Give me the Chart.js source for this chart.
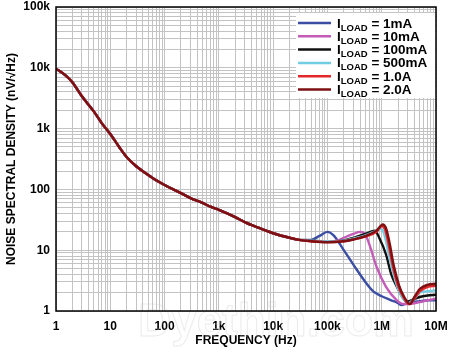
<!DOCTYPE html>
<html>
<head>
<meta charset="utf-8">
<script src="https://cdn.jsdelivr.net/npm/chart.js@4"></script>
<style>
  html, body { margin: 0; padding: 0; background: #fff; }
  #wrap { width: 450px; height: 353px; }
</style>
</head>
<body>
<div id="wrap"><canvas id="noiseChart" width="450" height="353"></canvas></div>
<script>
// 저주파 구간 (모든 부하 전류에서 거의 동일)
var lowFreq  = [1, 1.5, 2, 3, 5, 7, 10, 15, 20, 30, 50, 70, 100, 200, 300, 500, 700, 1000, 2000, 3000, 5000, 10000, 20000, 30000];
var lowNoise = [9700, 7500, 5800, 3400, 1900, 1220, 815, 480, 341, 240, 173, 141, 118, 87, 72, 60, 52, 46, 35, 29, 24, 19, 16, 14.8];

// 고주파 구간 (부하 전류별)
var freq1mA   = [50e3, 70e3, 100e3, 130e3, 200e3, 300e3, 500e3, 700e3, 1e6, 1.5e6, 2e6, 2.3e6, 3e6, 5e6, 7e6, 1e7];
var noise1mA  = [14.8, 17, 20, 17.5, 10, 5.8, 3, 2.1, 1.75, 1.5, 1.35, 1.25, 1.35, 1.45, 1.5, 1.5];
var freq10mA  = [50e3, 100e3, 150e3, 200e3, 300e3, 400e3, 500e3, 600e3, 800e3, 1.2e6, 1.9e6, 2.5e6, 3e6, 5e6, 7e6, 1e7];
var noise10mA = [14.3, 13.8, 14.3, 16, 18.5, 20, 18, 12, 5.4, 2.5, 1.5, 1.3, 1.3, 1.4, 1.5, 1.6];
var freq100mA  = [50e3, 100e3, 200e3, 300e3, 500e3, 750e3, 900e3, 1.2e6, 1.5e6, 1.9e6, 2.4e6, 2.9e6, 3.5e6, 5e6, 7e6, 1e7];
var noise100mA = [14.3, 14, 14.5, 16, 18.5, 21, 16, 8.5, 4, 2.5, 1.7, 1.42, 1.5, 1.7, 1.8, 1.85];
var freq500mA  = [50e3, 100e3, 200e3, 300e3, 500e3, 800e3, 950e3, 1.1e6, 1.3e6, 1.6e6, 2e6, 2.6e6, 3.1e6, 4e6, 5e6, 7e6, 1e7];
var noise500mA = [14.3, 14, 14.3, 15.5, 17.5, 21, 22.5, 19, 10, 4.5, 2.3, 1.5, 1.35, 1.6, 2, 2.1, 2.2];
var freq1A   = [50e3, 100e3, 200e3, 300e3, 500e3, 800e3, 1e6, 1.15e6, 1.35e6, 1.6e6, 2e6, 2.5e6, 3.2e6, 4e6, 5e6, 7e6, 1e7];
var noise1A  = [14, 13.6, 14, 15, 16.7, 20, 25, 22, 12, 5.5, 2.6, 1.7, 1.3, 1.6, 2.1, 2.5, 2.6];
var freq2A   = [50e3, 100e3, 200e3, 300e3, 500e3, 800e3, 1.05e6, 1.2e6, 1.4e6, 1.65e6, 2.1e6, 2.6e6, 3.3e6, 4e6, 5e6, 7e6, 1e7];
var noise2A  = [14, 13.5, 14, 15, 17, 21, 26.5, 23, 13, 5.8, 2.6, 1.7, 1.3, 1.7, 2.3, 2.7, 2.8];

var loadLabels = ['1mA', '10mA', '100mA', '500mA', '1.0A', '2.0A'];
var lineColors = ['#3b4ea3', '#c45bb8', '#111111', '#72cde3', '#e3282b', '#7d1012'];

var xTickValues = [1, 10, 100, 1e3, 1e4, 1e5, 1e6, 1e7];
var xTickLabels = ['1', '10', '100', '1k', '10k', '100k', '1M', '10M'];
var yTickValues = [1, 10, 100, 1e3, 1e4, 1e5];
var yTickLabels = ['1', '10', '100', '1k', '10k', '100k'];

function toPoints(f, v) {
    var pts = [];
    for (var i = 0; i < f.length; i++) pts.push({ x: f[i], y: v[i] });
    return pts;
}
function series(tailF, tailV) {
    return toPoints(lowFreq.concat(tailF), lowNoise.concat(tailV));
}
var allSeries = [
    series(freq1mA, noise1mA),
    series(freq10mA, noise10mA),
    series(freq100mA, noise100mA),
    series(freq500mA, noise500mA),
    series(freq1A, noise1A),
    series(freq2A, noise2A)
];

// 로그 눈금: 각 decade 의 1~9 배
function logTicks(minExp, maxExp) {
    var t = [];
    for (var e = minExp; e < maxExp; e++) {
        for (var m = 1; m < 10; m++) t.push({ value: m * Math.pow(10, e) });
    }
    t.push({ value: Math.pow(10, maxExp) });
    return t;
}

var FONT = '"Liberation Sans", Arial, sans-serif';

var datasets = allSeries.map(function (pts, i) {
    return {
        label: loadLabels[i],
        data: pts,
        borderColor: lineColors[i],
        borderWidth: 2.4,
        pointRadius: 0,
        fill: false,
        cubicInterpolationMode: 'monotone',
        order: allSeries.length - i
    };
});

// 테두리 + 범례 + 워터마크
var decorPlugin = {
    id: 'decor',
    beforeDatasetsDraw: function (chart) {
        var c = chart.ctx;
        c.save();
        c.font = 'bold 46px ' + FONT;
        c.lineWidth = 1;
        c.strokeStyle = 'rgba(205,205,205,0.4)';
        c.textAlign = 'center';
        c.textBaseline = 'alphabetic';
        c.strokeText('Dyethin.com', 276, 336);
        c.restore();
    },
    afterDraw: function (chart) {
        var c = chart.ctx, a = chart.chartArea;
        c.save();
        // 범례
        c.fillStyle = '#fff';
        c.fillRect(296, 13, a.right - 296 - 1, 85);
        for (var i = 0; i < loadLabels.length; i++) {
            var y = 23 + i * 13.3;
            c.strokeStyle = lineColors[i];
            c.lineWidth = 2.5;
            c.beginPath();
            c.moveTo(298, y);
            c.lineTo(331, y);
            c.stroke();
            c.fillStyle = '#000';
            c.textBaseline = 'alphabetic';
            c.textAlign = 'left';
            var bx = 337, by = y + 4.5;
            c.font = 'bold 13.5px ' + FONT;
            c.fillText('I', bx, by);
            bx += c.measureText('I').width;
            c.font = 'bold 9.5px ' + FONT;
            c.fillText('LOAD', bx, by + 3);
            bx += c.measureText('LOAD').width;
            c.font = 'bold 13.5px ' + FONT;
            c.fillText(' = ' + loadLabels[i], bx, by);
        }
        // 플롯 테두리
        c.strokeStyle = '#000';
        c.lineWidth = 1.5;
        c.strokeRect(a.left, a.top, a.right - a.left, a.bottom - a.top);
        c.restore();
    }
};

var ctx = document.getElementById('noiseChart').getContext('2d');
var noiseChart = new Chart(ctx, {
    type: 'line',
    data: { datasets: datasets },
    options: {
        responsive: false,
        animation: false,
        layout: { padding: { top: 7, right: 14, left: 0, bottom: 0 } },
        plugins: {
            legend: { display: false },
            tooltip: { enabled: false }
        },
        scales: {
            x: {
                type: 'logarithmic',
                min: 1,
                max: 1e7,
                afterBuildTicks: function (s) { s.ticks = logTicks(0, 7); },
                afterFit: function (s) {
                    s.height = 42;
                    s.paddingLeft = 0;
                    s.paddingRight = 0;
                },
                grid: { color: '#c3c3c3', lineWidth: 1, drawTicks: false },
                border: { display: false },
                ticks: {
                    autoSkip: false,
                    maxRotation: 0,
                    padding: 8,
                    color: '#000',
                    font: { family: FONT, size: 12, weight: 'bold' },
                    callback: function (v) {
                        var k = xTickValues.indexOf(v);
                        return k >= 0 ? xTickLabels[k] : '';
                    }
                },
                title: {
                    display: true,
                    text: 'FREQUENCY (Hz)',
                    color: '#000',
                    font: { family: FONT, size: 12, weight: 'bold' },
                    padding: { top: 0, bottom: 5 }
                }
            },
            y: {
                type: 'logarithmic',
                min: 1,
                max: 1e5,
                afterBuildTicks: function (s) { s.ticks = logTicks(0, 5); },
                afterFit: function (s) {
                    s.width = 56;
                    s.paddingTop = 0;
                    s.paddingBottom = 0;
                },
                grid: { color: '#c3c3c3', lineWidth: 1, drawTicks: false },
                border: { display: false },
                ticks: {
                    autoSkip: false,
                    padding: 6,
                    color: '#000',
                    font: { family: FONT, size: 12, weight: 'bold' },
                    callback: function (v) {
                        var k = yTickValues.indexOf(v);
                        return k >= 0 ? yTickLabels[k] : '';
                    }
                },
                title: {
                    display: true,
                    text: 'NOISE SPECTRAL DENSITY (nV/\u221AHz)',
                    color: '#000',
                    font: { family: FONT, size: 12, weight: 'bold' },
                    padding: { top: 4, bottom: 0 }
                }
            }
        }
    },
    plugins: [decorPlugin]
});
</script>
</body>
</html>
